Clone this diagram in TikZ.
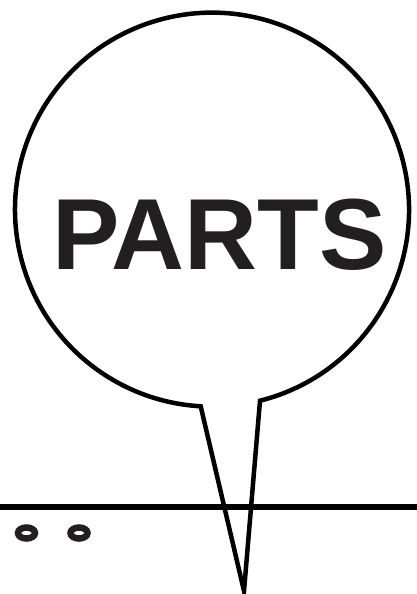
\documentclass[tikz,border=0pt]{standalone}
\usepackage{fontspec}
\setmainfont{Liberation Sans}
\definecolor{inkgray}{HTML}{231F20}
\begin{document}
\begin{tikzpicture}[x=1pt, y=1pt, line join=miter]
    \useasboundingbox (0,0) rectangle (416,-594);

    % Ground line
    \draw[line width=5.5pt] (-2,-507) -- (418,-507);

    % Holes
    \draw[line width=6.5pt, inkgray] (26.5,-533) ellipse (8.5 and 5.5);
    \draw[line width=6.5pt, inkgray] (79,-533) ellipse (8.5 and 5.5);

    % Bubble with tail
    \draw[line width=4.5pt] (260,-400.7) arc (284.1:626.7:197)
        -- (244,-591) -- cycle;

    % Label
    \node[inkgray, font=\fontsize{101}{101}\selectfont\bfseries, anchor=base] (parts) at (219.5,-269) {PARTS};
\end{tikzpicture}
\end{document}
